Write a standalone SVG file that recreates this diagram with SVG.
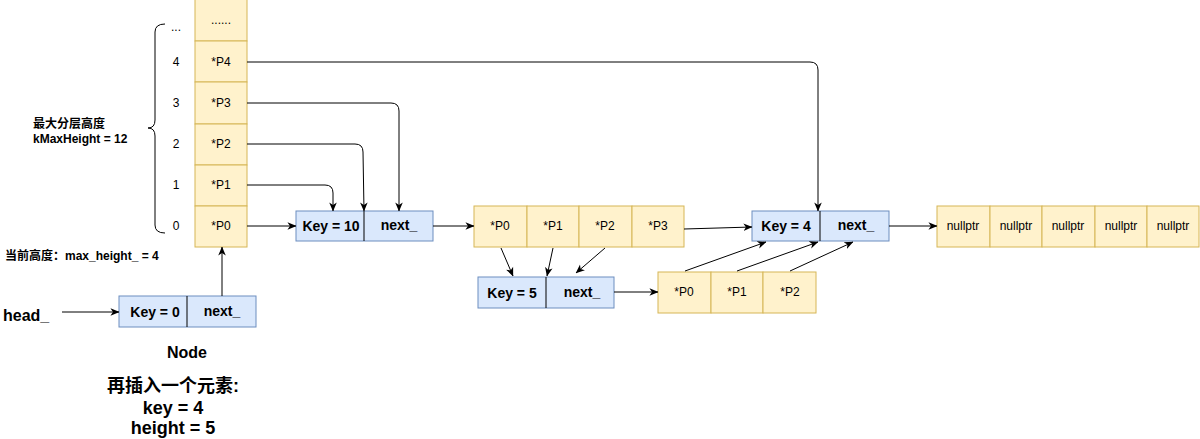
<svg xmlns="http://www.w3.org/2000/svg" width="1200" height="439" viewBox="0 0 1200 439">
  <defs>
    <marker id="arrow" viewBox="0 0 10 10" refX="9.5" refY="5" markerWidth="9" markerHeight="9" markerUnits="userSpaceOnUse" orient="auto">
      <path d="M0,0.8 L10,5 L0,9.2 L2.8,5 Z" fill="#000"/>
    </marker>
    <style>
      .y { fill: #fff2cc; stroke: #d6b656; stroke-width: 1; }
      .b { fill: #dae8fc; stroke: #6c8ebf; stroke-width: 1; }
      .div { stroke: #000; stroke-width: 1; }
      .t { font-family: "Liberation Sans", Arial, sans-serif; font-size: 12px; fill: #000; text-anchor: middle; }
      .k { font-family: "Liberation Sans", Arial, sans-serif; font-size: 14px; font-weight: bold; fill: #000; text-anchor: middle; }
      .lbl { font-family: "Liberation Sans", "Noto Sans CJK SC", sans-serif; font-size: 12px; font-weight: bold; fill: #000; }
      .big { font-family: "Liberation Sans", "Noto Sans CJK SC", sans-serif; font-size: 18px; font-weight: bold; fill: #000; text-anchor: middle; }
      .c { fill: none; stroke: #000; stroke-width: 1; marker-end: url(#arrow); }
    </style>
  </defs>
  <rect width="1200" height="439" fill="#fff"/>

  <!-- level column of the head node -->
  <g id="head-levels">
    <rect class="y" x="195" y="-1" width="52" height="42"/>
    <rect class="y" x="195" y="41" width="52" height="41"/>
    <rect class="y" x="195" y="82" width="52" height="42"/>
    <rect class="y" x="195" y="124" width="52" height="41"/>
    <rect class="y" x="195" y="165" width="52" height="41"/>
    <rect class="y" x="195" y="206" width="52" height="41"/>
    <text class="t" x="221" y="24">......</text>
    <text class="t" x="221" y="66">*P4</text>
    <text class="t" x="221" y="107">*P3</text>
    <text class="t" x="221" y="148">*P2</text>
    <text class="t" x="221" y="189">*P1</text>
    <text class="t" x="221" y="230">*P0</text>
  </g>

  <!-- level indices and brace -->
  <g id="level-index">
    <text class="t" x="176" y="31">...</text>
    <text class="t" x="176" y="66">4</text>
    <text class="t" x="176" y="107">3</text>
    <text class="t" x="176" y="148">2</text>
    <text class="t" x="176" y="189">1</text>
    <text class="t" x="176" y="230">0</text>
    <path d="M165,24 Q155,24 155,32 L155,120 Q155,128 148,128 Q155,128 155,136 L155,225 Q155,233 165,233" fill="none" stroke="#000" stroke-width="1"/>
    <text class="lbl" x="33" y="128">最大分层高度</text>
    <text class="lbl" x="33" y="143">kMaxHeight = 12</text>
  </g>

  <g id="current-height">
    <text class="lbl" x="5" y="260">当前高度：max_height_ = 4</text>
  </g>

  <g id="head-label">
    <text x="3" y="321" font-family="Liberation Sans, Arial, sans-serif" font-size="16" font-weight="bold">head_</text>
  </g>

  <!-- head node -->
  <g id="node-key0">
    <rect class="b" x="119" y="296" width="137" height="31"/>
    <line class="div" x1="187" y1="296" x2="187" y2="327"/>
    <text class="k" x="155" y="317">Key = 0</text>
    <text class="k" x="222" y="316">next_</text>
    <text x="187" y="358" font-family="Liberation Sans, Arial, sans-serif" font-size="16" font-weight="bold" text-anchor="middle">Node</text>
  </g>

  <g id="insert-note">
    <text class="big" x="173" y="392">再插入一个元素:</text>
    <text class="big" x="173" y="414">key = 4</text>
    <text class="big" x="173" y="434">height = 5</text>
  </g>

  <!-- node key 10 -->
  <g id="node-key10">
    <rect class="b" x="296" y="211" width="137" height="30"/>
    <line class="div" x1="364" y1="211" x2="364" y2="241"/>
    <text class="k" x="331" y="231">Key = 10</text>
    <text class="k" x="399" y="230">next_</text>
  </g>

  <g id="levels-key10">
    <rect class="y" x="474" y="206" width="53" height="41"/>
    <rect class="y" x="527" y="206" width="52" height="41"/>
    <rect class="y" x="579" y="206" width="53" height="41"/>
    <rect class="y" x="632" y="206" width="52" height="41"/>
    <text class="t" x="500" y="230">*P0</text>
    <text class="t" x="553" y="230">*P1</text>
    <text class="t" x="605" y="230">*P2</text>
    <text class="t" x="658" y="230">*P3</text>
  </g>

  <!-- node key 5 -->
  <g id="node-key5">
    <rect class="b" x="478" y="277" width="136" height="31"/>
    <line class="div" x1="546" y1="277" x2="546" y2="308"/>
    <text class="k" x="512" y="298">Key = 5</text>
    <text class="k" x="582" y="297">next_</text>
  </g>

  <g id="levels-key5">
    <rect class="y" x="658" y="272" width="53" height="41"/>
    <rect class="y" x="711" y="272" width="52" height="41"/>
    <rect class="y" x="763" y="272" width="53" height="41"/>
    <text class="t" x="684" y="296">*P0</text>
    <text class="t" x="737" y="296">*P1</text>
    <text class="t" x="790" y="296">*P2</text>
  </g>

  <!-- node key 4 -->
  <g id="node-key4">
    <rect class="b" x="752" y="211" width="137" height="30"/>
    <line class="div" x1="820" y1="211" x2="820" y2="241"/>
    <text class="k" x="786" y="231">Key = 4</text>
    <text class="k" x="856" y="230">next_</text>
  </g>

  <g id="levels-key4">
    <rect class="y" x="937" y="206" width="53" height="41"/>
    <rect class="y" x="990" y="206" width="52" height="41"/>
    <rect class="y" x="1042" y="206" width="53" height="41"/>
    <rect class="y" x="1095" y="206" width="52" height="41"/>
    <rect class="y" x="1147" y="206" width="52" height="41"/>
    <text class="t" x="963" y="230">nullptr</text>
    <text class="t" x="1016" y="230">nullptr</text>
    <text class="t" x="1068" y="230">nullptr</text>
    <text class="t" x="1121" y="230">nullptr</text>
    <text class="t" x="1173" y="230">nullptr</text>
  </g>

  <!-- connectors -->
  <g id="connectors">
    <line class="c" x1="62" y1="312" x2="119" y2="312"/>
    <line class="c" x1="222" y1="296" x2="222" y2="247"/>
    <line class="c" x1="247" y1="226" x2="296" y2="226"/>
    <path class="c" d="M247,185 L325,185 Q333,185 333,193 L333,211"/>
    <path class="c" d="M247,144 L355,144 Q363,144 363,152 L364,211"/>
    <path class="c" d="M247,103 L391,103 Q399,103 399,111 L399,211"/>
    <path class="c" d="M247,62 L810,62 Q818,62 818,70 L818,211"/>
    <line class="c" x1="433" y1="226" x2="474" y2="226"/>
    <line class="c" x1="684" y1="229" x2="752" y2="227"/>
    <line class="c" x1="889" y1="226" x2="937" y2="226"/>
    <line class="c" x1="501" y1="248" x2="513" y2="276"/>
    <line class="c" x1="553" y1="248" x2="547" y2="276"/>
    <line class="c" x1="605" y1="248" x2="576" y2="273"/>
    <line class="c" x1="614" y1="292" x2="658" y2="292"/>
    <line class="c" x1="685" y1="271" x2="766" y2="242"/>
    <line class="c" x1="737" y1="271" x2="818" y2="242"/>
    <line class="c" x1="790" y1="271" x2="853" y2="242"/>
  </g>
</svg>
